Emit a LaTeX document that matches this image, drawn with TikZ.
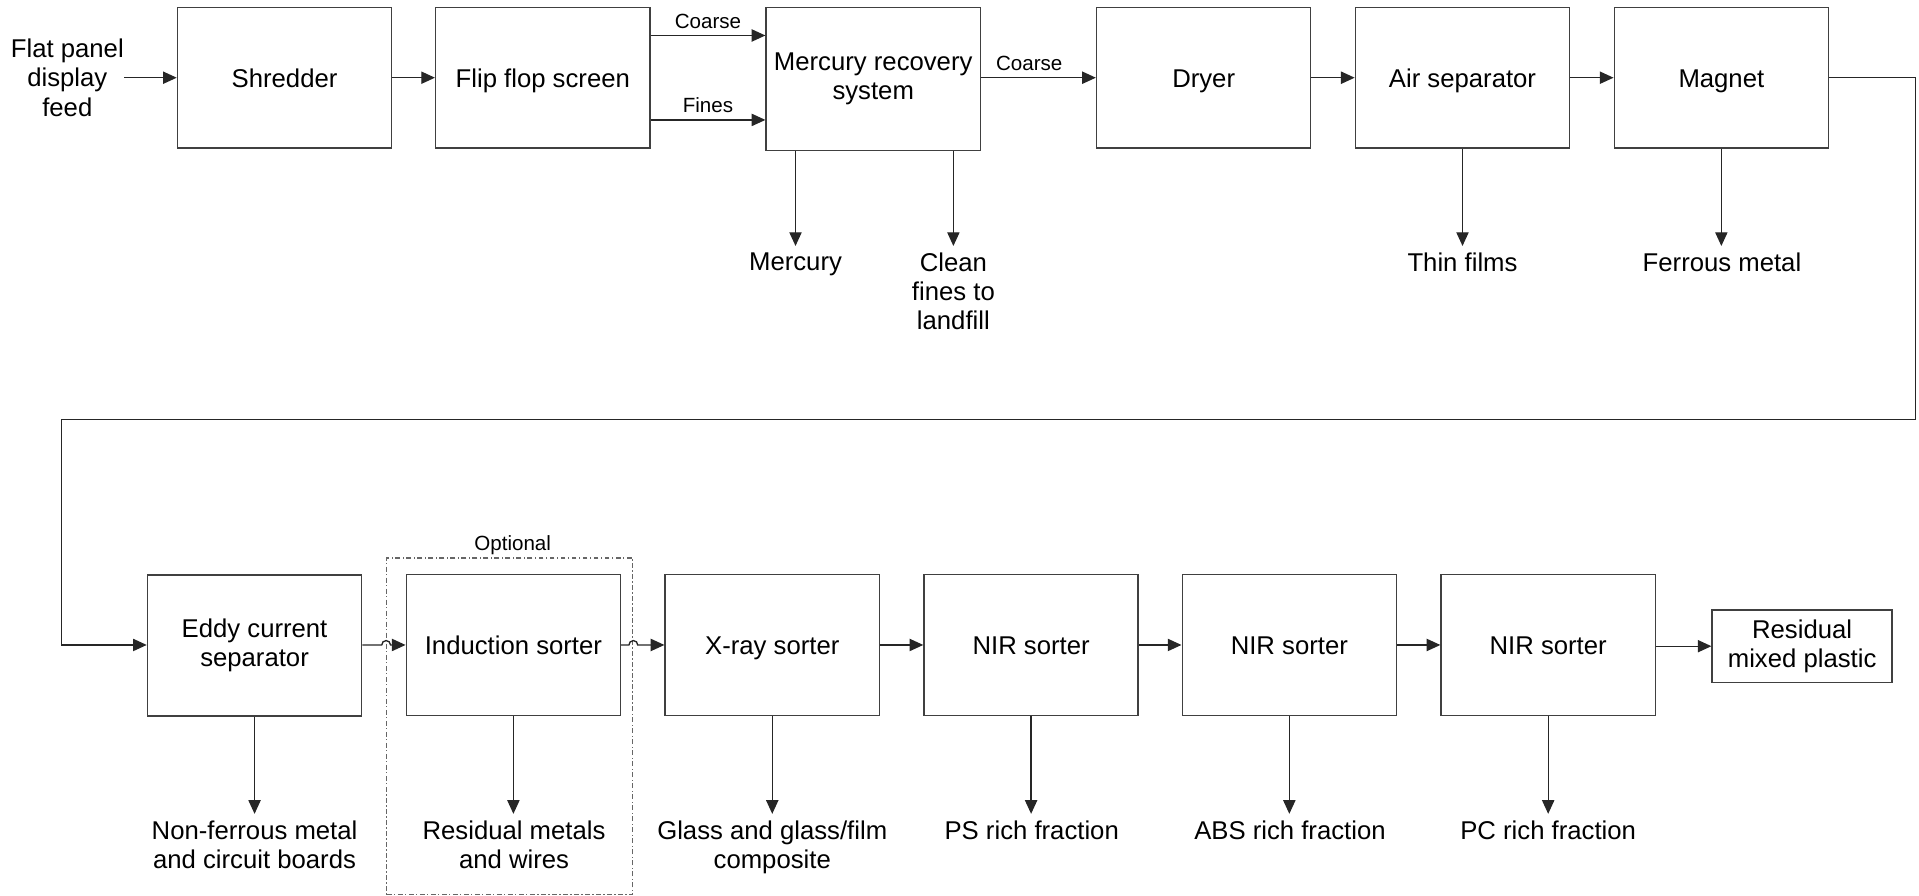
\documentclass[tikz,border=0pt]{standalone}
\usepackage{fontspec}
\setmainfont{Liberation Sans}
\usetikzlibrary{arrows.meta,calc}
\newcommand\fbig{\fontsize{10.5}{12}\selectfont}
\newcommand\fsmall{\fontsize{8.4}{10}\selectfont}
\begin{document}
\begin{tikzpicture}[x=0.5pt,y=-0.5pt,
  box/.style={draw=black!75, line width=0.6pt, minimum width=87.5pt, minimum height=57.5pt, inner sep=2pt, align=center, font=\fbig},
  oneline/.style={text height=8.8pt, text depth=1.2pt},
  smallbox/.style={draw=black!75, line width=0.6pt, minimum width=73.5pt, minimum height=29.5pt, inner sep=1pt, align=center, font=\fbig},
  arr/.style={draw=black!85, line width=0.55pt, -{Triangle[length=5.6pt,width=5pt]}},
  outtxt/.style={font=\fbig, align=center, inner xsep=0pt, inner ysep=2.5pt, anchor=north},
  lbl/.style={font=\fsmall, inner sep=2.5pt},
  optbox/.style={draw=black!60, line width=0.5pt, dash pattern=on 2pt off 1pt on 0.5pt off 1pt}
]
\useasboundingbox (0,0) rectangle (1568,732);

% top row
\node[font=\fbig, align=center, inner sep=0pt] (feed) at (55,63.5) {Flat panel\\display\\feed};
\node[box,oneline] (shred) at (232.5,63.5) {Shredder};
\node[box,oneline] (flip) at (443.5,63.5) {Flip flop screen};
\node[box, minimum height=58.5pt] (merc) at (713.5,64.5) {Mercury recovery\\system};
\node[box,oneline] (dry) at (983.5,63.5) {Dryer};
\node[box,oneline] (air) at (1195,63.5) {Air separator};
\node[box,oneline] (mag) at (1406.5,63.5) {Magnet};

\coordinate (coarseA) at ([yshift=17.25pt]flip.east);
\coordinate (finesA) at ([yshift=-17.25pt]flip.east);

\draw[arr] (feed.east) -- (shred.west);
\draw[arr] (shred) -- (flip);
\draw[arr] (coarseA) -- node[lbl,above]{Coarse} (merc.west |- coarseA);
\draw[arr] (finesA) -- node[lbl,above]{Fines} (merc.west |- finesA);
\draw[arr] (merc.east |- dry.west) -- node[lbl,above,pos=0.42]{Coarse} (dry.west);
\draw[arr] (dry) -- (air);
\draw[arr] (air) -- (mag);

% top outputs
\node[outtxt] (hg) at (650,201) {Mercury};
\node[outtxt] (clean) at (779,201) {Clean\\fines to\\landfill};
\node[outtxt] (thin) at (1195,201) {Thin films};
\node[outtxt] (fe) at (1407,201) {Ferrous metal};
\draw[arr] (merc.south -| hg.north) -- (hg.north);
\draw[arr] (merc.south -| clean.north) -- (clean.north);
\draw[arr] (air.south) -- (air.south |- thin.north);
\draw[arr] (mag.south) -- (mag.south |- fe.north);

% bottom row
\node[box] (eddy) at (208,527.5) {Eddy current\\separator};
\node[box,oneline] (ind) at (419.5,527) {Induction sorter};
\node[box,oneline] (xray) at (631,527) {X-ray sorter};
\node[box,oneline] (nir1) at (842.5,527) {NIR sorter};
\node[box,oneline] (nir2) at (1053.5,527) {NIR sorter};
\node[box,oneline] (nir3) at (1265,527) {NIR sorter};
\node[smallbox] (res) at (1472.5,528) {Residual\\mixed plastic};

\node[optbox, minimum width=100.5pt, minimum height=137.5pt] (opt) at (416.5,593.5) {};
\node[lbl, anchor=south, inner sep=1pt] (optl) at ([xshift=1.2pt]opt.north) {Optional};

% loop from magnet to eddy current separator
\coordinate (turnR) at (1565,343);
\coordinate (turnL) at (50,343);
\draw[arr] (mag.east) -| (turnR) -- (turnL) |- (ind.west -| eddy.west);

\draw[arr] (eddy.east |- ind.west) -- ([xshift=-1.8pt]opt.west |- ind.west) arc[start angle=180,end angle=0,radius=1.8pt] -- (ind.west);
\draw[arr] (ind.east) -- ([xshift=-1.8pt]opt.east |- ind.east) arc[start angle=180,end angle=0,radius=1.8pt] -- (xray.west);
\draw[arr] (xray) -- (nir1);
\draw[arr] (nir1) -- (nir2);
\draw[arr] (nir2) -- (nir3);
\draw[arr] (nir3.east |- res.west) -- (res.west);

% bottom outputs
\node[outtxt] (nf) at (208,665) {Non-ferrous metal\\and circuit boards};
\node[outtxt] (rm) at (420,665) {Residual metals\\and wires};
\node[outtxt] (gl) at (631,665) {Glass and glass/film\\composite};
\node[outtxt] (ps) at (843,665) {PS rich fraction};
\node[outtxt] (abs) at (1054,665) {ABS rich fraction};
\node[outtxt] (pc) at (1265,665) {PC rich fraction};
\draw[arr] (eddy.south) -- (eddy.south |- nf.north);
\draw[arr] (ind.south) -- (ind.south |- rm.north);
\draw[arr] (xray.south) -- (xray.south |- gl.north);
\draw[arr] (nir1.south) -- (nir1.south |- ps.north);
\draw[arr] (nir2.south) -- (nir2.south |- abs.north);
\draw[arr] (nir3.south) -- (nir3.south |- pc.north);
\end{tikzpicture}
\end{document}
